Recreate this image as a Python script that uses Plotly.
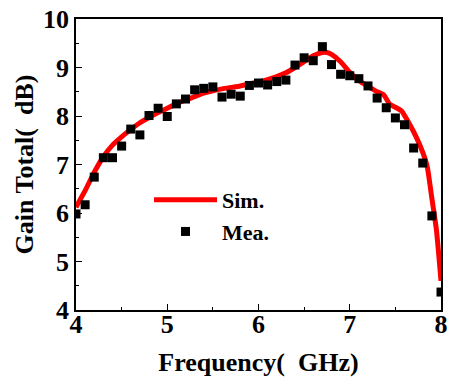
import plotly.graph_objects as go

# Simulated gain
sim_freq = [4.0, 4.1, 4.2, 4.3, 4.4, 4.5, 4.6, 4.7, 4.8, 4.9, 5.0, 5.1, 5.2, 5.3, 5.4,
            5.5, 5.6, 5.7, 5.8, 5.9, 6.0, 6.1, 6.2, 6.3, 6.4, 6.5, 6.6, 6.7, 6.75, 6.8,
            6.9, 7.0, 7.1, 7.2, 7.3, 7.37, 7.44, 7.5, 7.57, 7.65, 7.73, 7.8, 7.85,
            7.9, 7.95, 8.0]
sim_gain = [6.12, 6.46, 6.84, 7.16, 7.40, 7.57, 7.72, 7.86, 7.97, 8.07, 8.16, 8.25, 8.33,
            8.40, 8.47, 8.52, 8.56, 8.59, 8.62, 8.66, 8.70, 8.75, 8.81, 8.89, 9.0, 9.12,
            9.24, 9.31, 9.31, 9.27, 9.12, 8.9, 8.73, 8.61, 8.5, 8.44, 8.24, 8.18, 8.1,
            7.85, 7.56, 7.25, 6.95, 6.3, 5.65, 4.6]

# Measured gain
mea_freq = [4.0, 4.1, 4.2, 4.3, 4.4, 4.5, 4.6, 4.7, 4.8, 4.9, 5.0, 5.1, 5.2, 5.3, 5.4,
            5.5, 5.6, 5.7, 5.8, 5.9, 6.0, 6.1, 6.2, 6.3, 6.4, 6.5, 6.6, 6.7, 6.8, 6.9,
            7.0, 7.1, 7.2, 7.3, 7.4, 7.5, 7.6, 7.7, 7.8, 7.9, 8.0]
mea_gain = [5.98, 6.17, 6.74, 7.14, 7.14, 7.38, 7.73, 7.61, 8.01, 8.16, 7.99, 8.25, 8.35,
            8.54, 8.57, 8.60, 8.39, 8.45, 8.41, 8.63, 8.68, 8.64, 8.71, 8.74, 9.05, 9.20,
            9.14, 9.43, 9.06, 8.86, 8.83, 8.77, 8.62, 8.37, 8.17, 7.96, 7.82, 7.34, 7.03,
            5.94, 4.37]

x_ticks = [4, 5, 6, 7, 8]
y_ticks = [4, 5, 6, 7, 8, 9, 10]

FONT = "Liberation Serif"

fig = go.Figure()
fig.add_trace(go.Scatter(
    x=sim_freq, y=sim_gain, mode="lines", name="<b>Sim.</b>",
    line=dict(color="#ff0000", width=5, shape="spline", smoothing=0.5),
))
fig.add_trace(go.Scatter(
    x=mea_freq, y=mea_gain, mode="markers", name="<b>Mea.</b>",
    marker=dict(symbol="square", size=9, color="#000000", line=dict(width=0)),
))

axis_common = dict(
    showgrid=False, zeroline=False, showline=True, linecolor="black", linewidth=1.5,
    mirror=True, ticks="inside", ticklen=6, tickwidth=1.2, tickcolor="black",
    tickfont=dict(family=FONT, size=26, color="black", weight="bold"),
    minor=dict(ticks="inside", ticklen=3, tickwidth=1.2, tickcolor="black", dtick=0.5),
    ticklabeloverflow="allow",
)

fig.update_xaxes(range=[4, 8], tickvals=x_ticks, ticktext=[str(v) for v in x_ticks],
                 ticklabelstandoff=-10, automargin=False,
                 title=dict(text="<b>Frequency(\u00a0\u00a0GHz)</b>",
                            font=dict(family=FONT, size=26, color="black")),
                 **axis_common)
fig.update_yaxes(range=[4, 10], tickvals=y_ticks, ticktext=[str(v) for v in y_ticks],
                 automargin="left",
                 title=dict(text="<b>Gain Total(\u00a0\u00a0dB)</b>", standoff=2,
                            font=dict(family=FONT, size=26, color="black")),
                 **axis_common)

fig.update_layout(
    width=456, height=385,
    margin=dict(l=76, r=15, t=19, b=75),
    paper_bgcolor="white", plot_bgcolor="white",
    showlegend=True,
    legend=dict(x=0.2, y=0.45, xanchor="left", yanchor="top",
                bgcolor="rgba(0,0,0,0)", font=dict(family=FONT, size=22, color="black"),
                itemwidth=63, tracegroupgap=0, borderwidth=0),
)

fig.write_html("out.html", config={"displayModeBar": False},
               post_script="document.body.style.margin='0';document.body.style.overflow='hidden';")
